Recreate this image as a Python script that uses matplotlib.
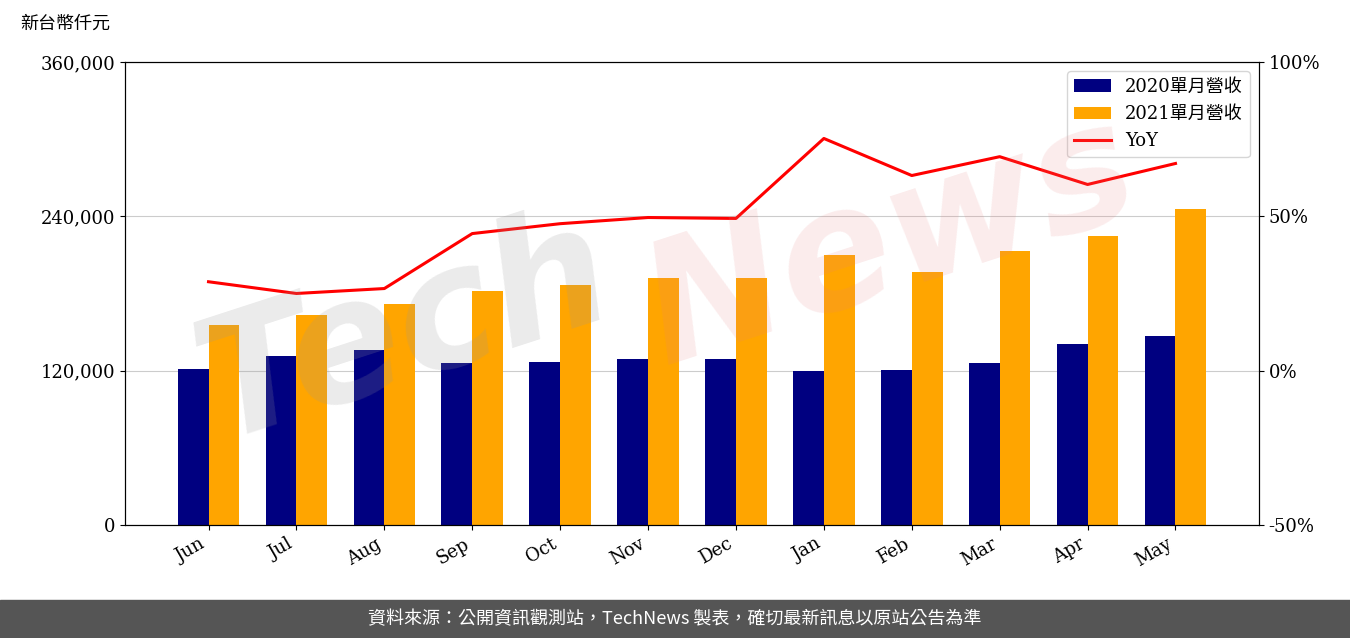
import matplotlib.pyplot as plt
import numpy as np

plt.rcParams['font.family'] = ['DejaVu Serif', 'Noto Sans CJK TC']

months = ["Jun", "Jul", "Aug", "Sep", "Oct", "Nov", "Dec", "Jan", "Feb", "Mar", "Apr", "May"]
rev_2020 = [121300, 131400, 136000, 126000, 126700, 129000, 129000, 119700, 120500, 126000, 140700, 147000]
rev_2021 = [155500, 163300, 171800, 182000, 186600, 192000, 192000, 210000, 196700, 213000, 224700, 245700]
yoy = [28.8, 25.0, 26.6, 44.4, 47.6, 49.6, 49.3, 75.2, 63.2, 69.3, 60.3, 67.1]

fig = plt.figure(figsize=(13.5, 6.38), dpi=100)
ax = fig.add_axes([0.0926, 0.177, 0.840, 0.726])
x = np.arange(len(months))
w = 0.35
b1 = ax.bar(x - w/2, rev_2020, w, color='#000080', label='2020單月營收', zorder=2)
b2 = ax.bar(x + w/2, rev_2021, w, color='#FFA500', label='2021單月營收', zorder=2)
ax.set_ylim(0, 360000)
ax.set_yticks([0, 120000, 240000, 360000])
ax.set_yticklabels(['0', '120,000', '240,000', '360,000'], fontsize=13)
ax.yaxis.grid(True, color='#cccccc', zorder=0)
ax.set_xticks(x)
ax.set_xticklabels(months, rotation=30, ha='right', fontsize=13)
ax.set_xlim(-0.95, 11.95)

ax2 = ax.twinx()
l, = ax2.plot(x, yoy, color='red', lw=2.2, label='YoY')
ax2.set_ylim(-50, 100)
ax2.set_yticks([-50, 0, 50, 100])
ax2.set_yticklabels(['-50%', '0%', '50%', '100%'], fontsize=13)

ax2.legend([b1, b2, l], ['2020單月營收', '2021單月營收', 'YoY'], loc='upper right',
           prop={'family': ['DejaVu Serif', 'Noto Sans CJK TC'], 'size': 13})

fig.text(0.015, 0.955, '新台幣仟元', fontsize=13, family='Noto Sans CJK TC')
# watermark
fig.text(0.30, 0.48, 'Tech', fontsize=120, color='#999999', alpha=0.2, fontweight='bold',
         rotation=18, ha='center', va='center', fontstyle='italic', family='DejaVu Sans')
fig.text(0.66, 0.62, 'News', fontsize=120, color='#e88080', alpha=0.15, fontweight='bold',
         rotation=18, ha='center', va='center', fontstyle='italic', family='DejaVu Sans')

fig.patches.append(plt.Rectangle((0, 0), 1, 0.06, transform=fig.transFigure, color='#555555'))
fig.text(0.5, 0.03, '資料來源：公開資訊觀測站，TechNews 製表，確切最新訊息以原站公告為準',
         color='white', ha='center', va='center', fontsize=13, family='Noto Sans CJK TC')

fig.savefig('out.png')
